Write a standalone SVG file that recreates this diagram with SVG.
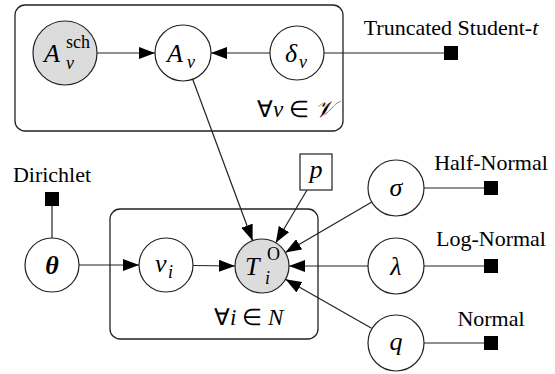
<svg xmlns="http://www.w3.org/2000/svg" width="555" height="374" viewBox="0 0 555 374">
<style>
.plate{fill:none;stroke:#222;stroke-width:1.3}
.node{fill:#fff;stroke:#222;stroke-width:1.2}
.obs{fill:#dcdcdc;stroke:#222;stroke-width:1.2}
.edge{fill:none;stroke:#222;stroke-width:1.2}
.arr{marker-end:url(#ah)}
.sq{fill:#000}
.lbl{font-family:"Liberation Serif","Times New Roman",serif;font-size:22px;fill:#000;text-anchor:middle}
.m{font-family:"Liberation Serif","Times New Roman",serif;font-style:italic;font-size:26px;fill:#000}
.ms{font-family:"Liberation Serif","Times New Roman",serif;font-style:italic;font-size:18px;fill:#000}
.rs{font-family:"Liberation Serif","Times New Roman",serif;font-size:18px;fill:#000}
.pl{font-family:"Liberation Serif","Times New Roman",serif;font-size:23px;fill:#000}
</style>
<defs>
<marker id="ah" markerUnits="userSpaceOnUse" markerWidth="16" markerHeight="12" refX="16" refY="6" orient="auto">
<path d="M0,0 L16,6 L0,12 z" fill="#000"/>
</marker>
</defs>
<g id="plates">
<rect id="plate-v" class="plate" x="15" y="5" width="328" height="126" rx="10"/>
<rect id="plate-i" class="plate" x="110" y="209" width="208" height="130" rx="10"/>
<text class="pl" x="257" y="117">∀<tspan font-style="italic">v</tspan> ∈ <tspan font-style="italic">𝒱</tspan></text>
<text class="pl" x="214" y="325">∀<tspan font-style="italic">i</tspan> ∈ <tspan font-style="italic">N</tspan></text>
</g>
<g id="connectors">
<line class="edge arr" x1="97" y1="53" x2="155" y2="53"/>
<line class="edge arr" x1="270" y1="53" x2="211" y2="53"/>
<line class="edge" x1="324" y1="53" x2="444" y2="53"/>
<line class="edge arr" x1="192.7" y1="79.3" x2="252.6" y2="240.7"/>
<line class="edge arr" x1="307" y1="190" x2="275.8" y2="242.8"/>
<line class="edge arr" x1="371.8" y1="202" x2="285.3" y2="252.4"/>
<line class="edge arr" x1="368" y1="266" x2="289" y2="266"/>
<line class="edge arr" x1="371.6" y1="328.2" x2="285.5" y2="279.3"/>
<line class="edge arr" x1="79" y1="265" x2="139" y2="265"/>
<line class="edge arr" x1="193" y1="265.5" x2="235" y2="266"/>
<line class="edge" x1="52" y1="206" x2="52" y2="238"/>
<line class="edge" x1="424" y1="188" x2="484" y2="188"/>
<line class="edge" x1="424" y1="266" x2="484" y2="266"/>
<line class="edge" x1="424" y1="343" x2="484" y2="343"/>
</g>
<g id="Asch">
<circle class="obs" cx="65" cy="53" r="32"/>
<text class="m" x="44" y="62">A</text>
<text class="rs" x="66" y="48">sch</text>
<text class="ms" x="66" y="69">v</text>
</g>
<g id="Av">
<circle class="node" cx="183" cy="53" r="28"/>
<text class="m" x="167" y="62">A</text>
<text class="ms" x="187" y="68">v</text>
</g>
<g id="delta">
<circle class="node" cx="297" cy="53" r="27"/>
<text class="m" x="285" y="62">δ</text>
<text class="ms" x="299" y="68">v</text>
</g>
<g id="trunc">
<rect class="sq" x="444" y="46" width="14" height="14"/>
<text class="lbl" x="451" y="35">Truncated Student-<tspan font-style="italic">t</tspan></text>
</g>
<g id="theta">
<circle class="node" cx="52" cy="265" r="27"/>
<text class="m" x="52" y="274" text-anchor="middle" font-weight="bold">θ</text>
</g>
<g id="dirichlet">
<rect class="sq" x="45" y="192" width="14" height="14"/>
<text class="lbl" x="52" y="182">Dirichlet</text>
</g>
<g id="vi">
<circle class="node" cx="166" cy="265" r="27"/>
<text class="m" x="155" y="272">v</text>
<text class="ms" x="168" y="278">i</text>
</g>
<g id="T">
<circle class="obs" cx="262" cy="266" r="27"/>
<text class="m" x="245" y="275">T</text>
<text class="rs" x="267" y="260">O</text>
<text class="ms" x="265" y="284">i</text>
</g>
<g id="p">
<rect class="node" x="300" y="154" width="32" height="36"/>
<text class="m" x="316" y="178" text-anchor="middle">p</text>
</g>
<g id="sigma">
<circle class="node" cx="396" cy="188" r="28"/>
<text class="m" x="396" y="196" text-anchor="middle">σ</text>
</g>
<g id="halfnormal">
<rect class="sq" x="484" y="181" width="14" height="14"/>
<text class="lbl" x="491" y="170">Half-Normal</text>
</g>
<g id="lambda">
<circle class="node" cx="396" cy="266" r="28"/>
<text class="m" x="396" y="275" text-anchor="middle">λ</text>
</g>
<g id="lognormal">
<rect class="sq" x="484" y="259" width="14" height="14"/>
<text class="lbl" x="491" y="246">Log-Normal</text>
</g>
<g id="q">
<circle class="node" cx="396" cy="343" r="28"/>
<text class="m" x="396" y="350" text-anchor="middle">q</text>
</g>
<g id="normal">
<rect class="sq" x="484" y="336" width="14" height="14"/>
<text class="lbl" x="491" y="326">Normal</text>
</g>
</svg>
